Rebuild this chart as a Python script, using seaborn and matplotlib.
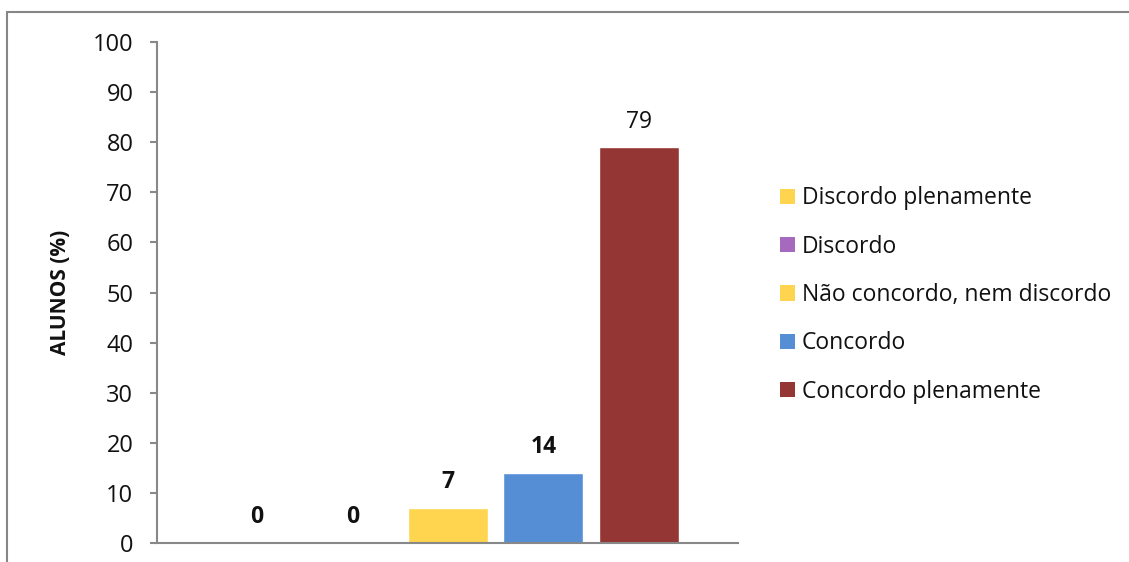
import matplotlib
matplotlib.use("Agg")
import matplotlib.pyplot as plt
from matplotlib.patches import Rectangle, Patch
import seaborn as sns
import pandas as pd

# Survey answers and the share of students (%) giving each one
categorias = ["Discordo plenamente", "Discordo", "Não concordo, nem discordo",
              "Concordo", "Concordo plenamente"]
alunos_pct = [0, 0, 7, 14, 79]
cores = ["#FFD54F", "#A569BD", "#FFD54F", "#558ED5", "#943634"]
rotulo_negrito = [True, True, True, True, False]
yticks = [0, 10, 20, 30, 40, 50, 60, 70, 80, 90, 100]

sns.set_theme(style="white")
plt.rcParams["font.family"] = ["Open Sans", "DejaVu Sans"]

W, H = 1129, 562
fig = plt.figure(figsize=(W / 100, H / 100), dpi=100)
ax = fig.add_axes([157 / W, 1 - 543 / H, (738 - 157) / W, (543 - 42) / H])

df = pd.DataFrame({"resposta": categorias, "pct": alunos_pct})
sns.barplot(data=df, x="resposta", y="pct", hue="resposta", order=categorias,
            hue_order=categorias, palette=cores, width=0.838, legend=False,
            saturation=1, ax=ax)

ax.set_ylim(0, 100)
ax.set_xlim(-1.047, 5.037)
ax.set_yticks(yticks)
ax.set_yticklabels([str(v) for v in yticks], fontsize=17, color="#111111")
ax.set_xticks([])
ax.set_xlabel("")
ax.set_ylabel("ALUNOS (%)", fontsize=15, fontweight="bold", color="#111111")
ax.yaxis.set_label_coords(-0.148, 0.5)

for side in ["top", "right"]:
    ax.spines[side].set_visible(False)
for side in ["left", "bottom"]:
    ax.spines[side].set_color("#888888")
    ax.spines[side].set_linewidth(1.5)
ax.tick_params(axis="y", which="major", direction="out", length=5, width=1.5,
               color="#888888", left=True, pad=12)

# Value labels above each bar
for i, (v, negrito) in enumerate(zip(alunos_pct, rotulo_negrito)):
    ax.annotate(str(v), xy=(i, v), xytext=(0, 18.5), textcoords="offset points",
                ha="center", va="center", fontsize=16.5,
                fontweight="bold" if negrito else "normal", color="#111111")

# Legend with square swatches to the right of the plot
handles = [Patch(facecolor=c, edgecolor="none") for c in cores]
fig.legend(handles, categorias, loc="center left",
           bbox_to_anchor=(759 / W, 1 - 295 / H), frameon=False,
           fontsize=16.5, handlelength=0.66, handleheight=0.66,
           handletextpad=0.3, labelspacing=1.06, labelcolor="#111111")

# Outer chart frame (continues past the right and bottom edges)
frame_top = 1 - 12 / H
fig.patches.append(Rectangle((7 / W, -0.2), 1.2, frame_top + 0.2,
                             transform=fig.transFigure, fill=False,
                             edgecolor="#868686", linewidth=1.5))

fig.savefig("out.png", dpi=100)
